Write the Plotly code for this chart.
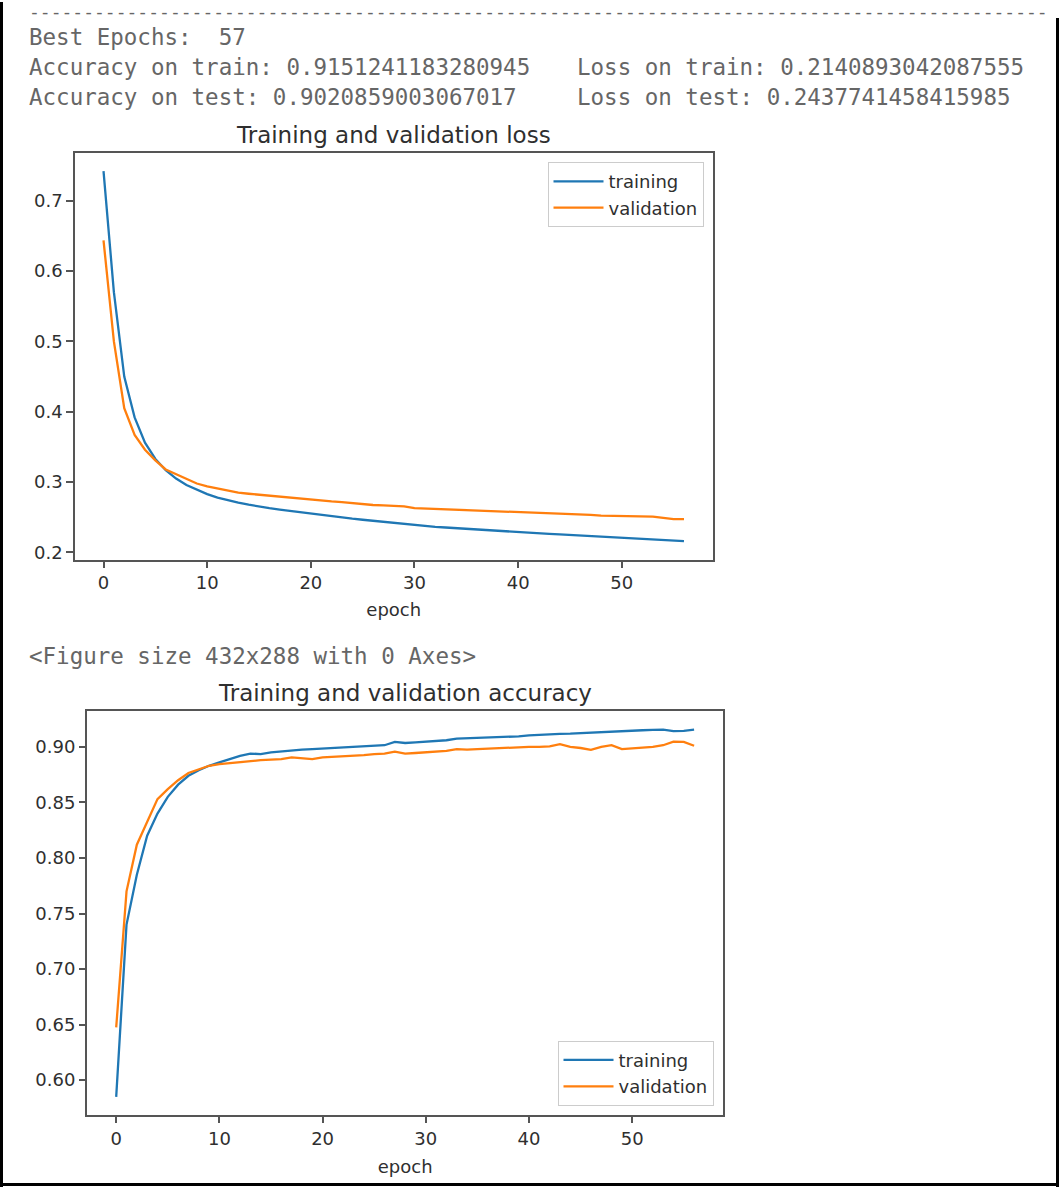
import plotly.graph_objects as go

# ---------------- data ----------------
epochs = list(range(57))

train_loss = [0.742, 0.570, 0.450, 0.392, 0.356, 0.333, 0.317, 0.305, 0.296, 0.289,
              0.283, 0.278, 0.274, 0.271, 0.268, 0.265, 0.263, 0.261, 0.259, 0.257,
              0.255, 0.253, 0.251, 0.2495, 0.248, 0.2465, 0.245, 0.2435, 0.2422, 0.241,
              0.2386, 0.2375, 0.2365, 0.2355, 0.2345, 0.2335, 0.2326, 0.2317, 0.2308, 0.2299,
              0.229, 0.2281, 0.2273, 0.2264, 0.2256, 0.2248, 0.224, 0.2232, 0.2224, 0.2216,
              0.2208, 0.2201, 0.2193, 0.2185, 0.2177, 0.2169, 0.2162]

val_loss = [0.6435, 0.500, 0.405, 0.367, 0.346, 0.331, 0.318, 0.311, 0.304, 0.298,
            0.294, 0.291, 0.287, 0.285, 0.2835, 0.282, 0.2805, 0.2798, 0.278, 0.2765,
            0.2745, 0.274, 0.2725, 0.2715, 0.270, 0.269, 0.2675, 0.267, 0.2665, 0.2655,
            0.263, 0.2625, 0.262, 0.2612, 0.2605, 0.260, 0.2592, 0.2585, 0.258, 0.2578,
            0.2575, 0.257, 0.2562, 0.2558, 0.2555, 0.2548, 0.2542, 0.2535, 0.2525, 0.2522,
            0.2518, 0.2515, 0.2508, 0.251, 0.2492, 0.2475, 0.2475]

train_acc = [0.585, 0.740, 0.785, 0.820, 0.840, 0.855, 0.866, 0.874, 0.879, 0.883,
             0.886, 0.889, 0.892, 0.894, 0.8935, 0.895, 0.896, 0.8965, 0.8975, 0.898,
             0.8985, 0.899, 0.8995, 0.900, 0.9005, 0.901, 0.9015, 0.9045, 0.9035, 0.904,
             0.9045, 0.905, 0.906, 0.9075, 0.9078, 0.908, 0.9083, 0.9087, 0.909, 0.9095,
             0.9103, 0.911, 0.9113, 0.9118, 0.912, 0.9125, 0.9127, 0.913, 0.914, 0.9143,
             0.9147, 0.915, 0.9153, 0.9156, 0.9142, 0.9145, 0.9155]

val_acc = [0.6475, 0.770, 0.812, 0.833, 0.853, 0.862, 0.870, 0.8765, 0.880, 0.883,
           0.8845, 0.8855, 0.886, 0.887, 0.888, 0.8885, 0.889, 0.8905, 0.8895, 0.889,
           0.8905, 0.891, 0.891, 0.892, 0.8925, 0.8935, 0.894, 0.8958, 0.894, 0.8945,
           0.895, 0.896, 0.8965, 0.898, 0.8975, 0.898, 0.8985, 0.899, 0.899, 0.8995,
           0.900, 0.900, 0.9005, 0.9024, 0.900, 0.899, 0.8973, 0.900, 0.9015, 0.898,
           0.8985, 0.8995, 0.900, 0.9015, 0.9048, 0.9045, 0.901]

epoch_ticks = [0, 10, 20, 30, 40, 50]
loss_ticks = [0.2, 0.3, 0.4, 0.5, 0.6, 0.7]
loss_tick_labels = ["0.2", "0.3", "0.4", "0.5", "0.6", "0.7"]
acc_ticks = [0.60, 0.65, 0.70, 0.75, 0.80, 0.85, 0.90]
acc_tick_labels = ["0.60", "0.65", "0.70", "0.75", "0.80", "0.85", "0.90"]

series_names = ["training", "validation"]
loss_title = "Training and validation loss"
acc_title = "Training and validation accuracy"
x_label = "epoch"

separator = "-" * 94
header_left = ["Best Epochs:  57",
               "Accuracy on train: 0.9151241183280945",
               "Accuracy on test: 0.9020859003067017"]
header_right = ["", "Loss on train: 0.2140893042087555",
                "Loss on test: 0.2437741458415985"]
figure_note = "<Figure size 432x288 with 0 Axes>"

# ---------------- layout helpers ----------------
W, H = 1061, 1190
BLUE, ORANGE = "#1f77b4", "#ff7f0e"
INK = "#2f2f2f"
SPINE = "#555555"
MONO = "#666666"


def px(x):
    return x / W


def py(y):
    return 1 - y / H


def auto_range(vals):
    lo, hi = min(vals), max(vals)
    m = 0.05 * (hi - lo)
    return [lo - m, hi + m]


loss_box = dict(l=74.5, r=713, t=153, b=561)
acc_box = dict(l=87.3, r=723, t=713, b=1118)

fig = go.Figure()

fig.add_trace(go.Scatter(x=epochs, y=train_loss, mode="lines", name=series_names[0],
                         line=dict(color=BLUE, width=2.3), xaxis="x", yaxis="y", legend="legend"))
fig.add_trace(go.Scatter(x=epochs, y=val_loss, mode="lines", name=series_names[1],
                         line=dict(color=ORANGE, width=2.3), xaxis="x", yaxis="y", legend="legend"))
fig.add_trace(go.Scatter(x=epochs, y=train_acc, mode="lines", name=series_names[0],
                         line=dict(color=BLUE, width=2.3), xaxis="x2", yaxis="y2", legend="legend2"))
fig.add_trace(go.Scatter(x=epochs, y=val_acc, mode="lines", name=series_names[1],
                         line=dict(color=ORANGE, width=2.3), xaxis="x2", yaxis="y2", legend="legend2"))

axis_common = dict(showline=True, mirror=True, linecolor=SPINE, linewidth=1.5,
                   ticks="outside", ticklen=6.5, tickwidth=1.5, tickcolor=SPINE,
                   showgrid=False, zeroline=False,
                   tickfont=dict(family="DejaVu Sans", size=18, color=INK))

xr = auto_range(epochs)

legend_common = dict(bgcolor="rgba(255,255,255,0.85)", bordercolor="#cccccc", borderwidth=1,
                     itemwidth=50,
                     font=dict(family="DejaVu Sans", size=18, color=INK))

fig.update_layout(
    width=W, height=H,
    margin=dict(l=0, r=0, t=0, b=0),
    paper_bgcolor="white", plot_bgcolor="white",
    font=dict(family="DejaVu Sans", color=INK),
    xaxis=dict(domain=[px(loss_box["l"]), px(loss_box["r"])], range=xr,
               tickvals=epoch_ticks, anchor="y",
               title=dict(text=x_label, font=dict(size=18, color=INK), standoff=11),
               **axis_common),
    yaxis=dict(domain=[py(loss_box["b"]), py(loss_box["t"])],
               range=auto_range(train_loss + val_loss),
               tickvals=loss_ticks, ticktext=loss_tick_labels, anchor="x",
               **axis_common),
    xaxis2=dict(domain=[px(acc_box["l"]), px(acc_box["r"])], range=xr,
                tickvals=epoch_ticks, anchor="y2",
                title=dict(text=x_label, font=dict(size=18, color=INK), standoff=12),
                **axis_common),
    yaxis2=dict(domain=[py(acc_box["b"]), py(acc_box["t"])],
                range=auto_range(train_acc + val_acc),
                tickvals=acc_ticks, ticktext=acc_tick_labels, anchor="x2",
                **axis_common),
    legend=dict(x=px(loss_box["r"] - 9.5), xanchor="right",
                y=py(loss_box["t"] + 9.5), yanchor="top", **legend_common),
    legend2=dict(x=px(acc_box["r"] - 9.5), xanchor="right",
                 y=py(acc_box["b"] - 9.5), yanchor="bottom", **legend_common),
)

annotations = []
# subplot titles
annotations.append(dict(text=loss_title, x=px((loss_box["l"] + loss_box["r"]) / 2),
                        y=py(loss_box["t"] - 3), xref="paper", yref="paper",
                        xanchor="center", yanchor="bottom", showarrow=False,
                        font=dict(family="DejaVu Sans", size=23, color=INK)))
annotations.append(dict(text=acc_title, x=px((acc_box["l"] + acc_box["r"]) / 2),
                        y=py(acc_box["t"] - 3), xref="paper", yref="paper",
                        xanchor="center", yanchor="bottom", showarrow=False,
                        font=dict(family="DejaVu Sans", size=23, color=INK)))

mono = dict(family="DejaVu Sans Mono", size=22.5, color=MONO)
# separator row (slightly smaller so its text box stays inside the page)
annotations.append(dict(text=separator, x=px(27), y=py(11.5), xref="paper", yref="paper",
                        xanchor="left", yanchor="middle", showarrow=False,
                        font=dict(family="DejaVu Sans Mono", size=18, color=MONO)))
rows_y = [37, 67, 97]
for i, yy in enumerate(rows_y):
    annotations.append(dict(text=header_left[i], x=px(27), y=py(yy), xref="paper", yref="paper",
                            xanchor="left", yanchor="middle", showarrow=False, font=mono))
    if header_right[i]:
        annotations.append(dict(text=header_right[i], x=px(575), y=py(yy), xref="paper",
                                yref="paper", xanchor="left", yanchor="middle",
                                showarrow=False, font=mono))
annotations.append(dict(text=figure_note.replace("<", "&lt;").replace(">", "&gt;"),
                        x=px(27), y=py(658), xref="paper", yref="paper",
                        xanchor="left", yanchor="middle", showarrow=False, font=mono))
fig.update_layout(annotations=annotations)

# outer screenshot frame
frame = dict(type="line", xref="paper", yref="paper", line=dict(color="black", width=3))
fig.add_shape(x0=px(1.5), x1=px(1.5), y0=0, y1=py(2), **frame)
fig.add_shape(x0=px(1057.5), x1=px(1057.5), y0=0, y1=py(18), **frame)
fig.add_shape(x0=0, x1=px(1059), y0=py(1187.5), y1=py(1187.5), **frame)

fig.write_html("out.html", config={"displayModeBar": False},
               post_script="document.body.style.margin='0';document.body.style.overflow='hidden';")
